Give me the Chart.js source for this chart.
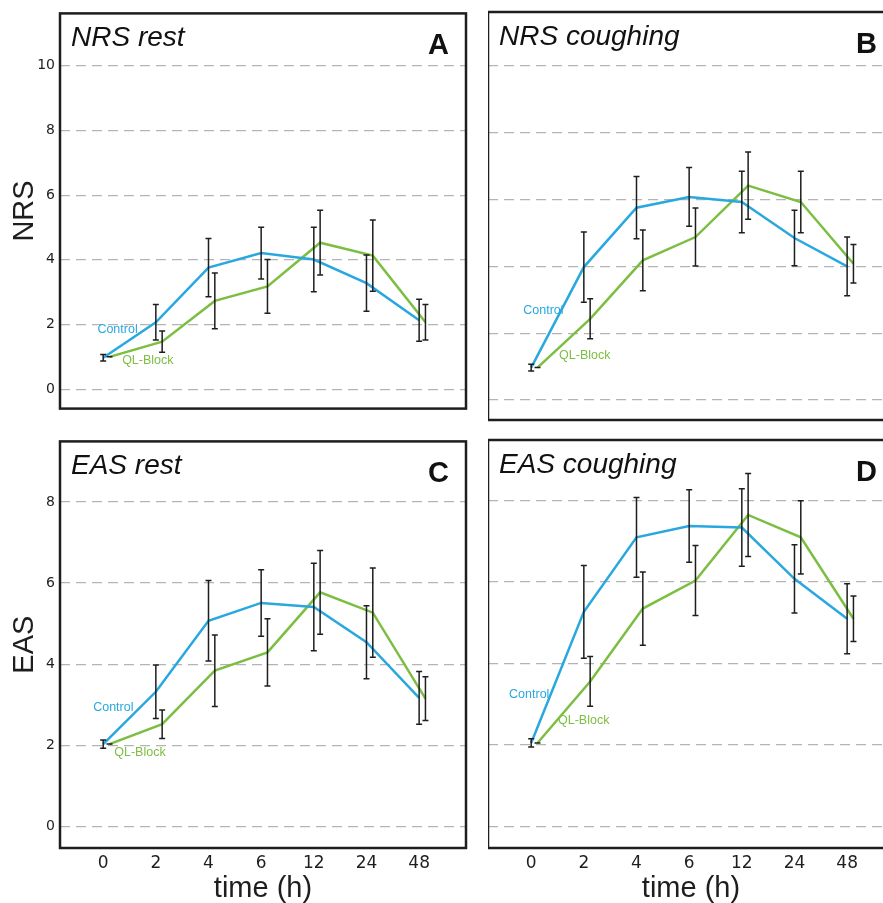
<!DOCTYPE html>
<html>
<head>
<meta charset="utf-8">
<script src="https://cdn.jsdelivr.net/npm/chart.js@4.4.0/dist/chart.umd.min.js"></script>
<style>
    html, body { margin: 0; padding: 0; background: #fff; width: 883px; height: 903px; overflow: hidden; }
    canvas { position: absolute; }
</style>
</head>
<body>
<canvas id="chartA" width="470" height="422" style="left:0;top:0"></canvas>
<canvas id="chartB" width="410" height="422" style="left:488px;top:0"></canvas>
<canvas id="chartC" width="470" height="475" style="left:0;top:428px"></canvas>
<canvas id="chartD" width="410" height="475" style="left:488px;top:428px"></canvas>
<script>
var times = ['0', '2', '4', '6', '12', '24', '48'];
var nrsTicks = [0, 2, 4, 6, 8, 10];
var easTicks = [0, 2, 4, 6, 8];

// NRS rest (A)
var nrsRestControl = [0.97, 2.07, 3.76, 4.21, 4.01, 3.28, 2.13];
var nrsRestControlSd = [0.1, 0.55, 0.9, 0.8, 1.0, 0.87, 0.65];
var nrsRestBlock = [1.0, 1.47, 2.73, 3.18, 4.53, 4.13, 2.07];
var nrsRestBlockSd = [0, 0.33, 0.86, 0.83, 1.0, 1.1, 0.55];

// NRS coughing (B)
var nrsCoughControl = [0.97, 3.98, 5.76, 6.08, 5.93, 4.85, 4.0];
var nrsCoughControlSd = [0.1, 1.05, 0.93, 0.88, 0.92, 0.83, 0.88];
var nrsCoughBlock = [0.97, 2.43, 4.18, 4.88, 6.42, 5.93, 4.08];
var nrsCoughBlockSd = [0, 0.6, 0.91, 0.87, 1.01, 0.92, 0.58];

// EAS rest (C)
var easRestControl = [2.03, 3.32, 5.07, 5.51, 5.41, 4.54, 3.17];
var easRestControlSd = [0.1, 0.66, 0.99, 0.82, 1.08, 0.9, 0.65];
var easRestBlock = [2.03, 2.52, 3.84, 4.29, 5.77, 5.27, 3.15];
var easRestBlockSd = [0, 0.35, 0.88, 0.83, 1.03, 1.1, 0.54];

// EAS coughing (D)
var easCoughControl = [2.05, 5.27, 7.1, 7.38, 7.34, 6.08, 5.1];
var easCoughControlSd = [0.1, 1.14, 0.98, 0.89, 0.95, 0.84, 0.86];
var easCoughBlock = [2.05, 3.56, 5.35, 6.04, 7.65, 7.1, 5.1];
var easCoughBlockSd = [0, 0.61, 0.9, 0.86, 1.02, 0.9, 0.56];

var blue = 'rgb(41, 168, 224)';
var green = 'rgb(124, 190, 66)';
var ink = '#1e1e1e';
var greenShift = 0.12;

function points(values, shift) {
    return values.map(function (v, i) { return { x: i + shift, y: v }; });
}

// error bars, series labels, frame, panel title and letter
var panelPlugin = {
    id: 'panel',
    afterDatasetsDraw: function (chart, args, opts) {
        var ctx = chart.ctx;
        var xs = chart.scales.x;
        var ys = chart.scales.y;
        var a = chart.chartArea;
        ctx.save();

        ctx.strokeStyle = ink;
        ctx.lineWidth = 1.5;
        chart.data.datasets.forEach(function (ds) {
            ds.data.forEach(function (p, i) {
                var px = xs.getPixelForValue(p.x);
                var top = ys.getPixelForValue(p.y + ds.sd[i]);
                var bot = ys.getPixelForValue(p.y - ds.sd[i]);
                ctx.beginPath();
                ctx.moveTo(px, top); ctx.lineTo(px, bot);
                ctx.moveTo(px - 3, top); ctx.lineTo(px + 3, top);
                ctx.moveTo(px - 3, bot); ctx.lineTo(px + 3, bot);
                ctx.stroke();
            });
        });

        ctx.font = '12.5px "Liberation Sans", Arial, sans-serif';
        ctx.textAlign = 'left';
        ctx.textBaseline = 'middle';
        opts.labels.forEach(function (l) {
            ctx.fillStyle = l.color;
            ctx.fillText(l.text, xs.getPixelForValue(l.x), ys.getPixelForValue(l.y));
        });

        ctx.lineWidth = 2.5;
        ctx.strokeStyle = ink;
        ctx.strokeRect(a.left, a.top, a.right - a.left, a.bottom - a.top);

        ctx.fillStyle = '#111';
        ctx.textBaseline = 'alphabetic';
        ctx.font = 'italic 28px "Liberation Sans", Arial, sans-serif';
        ctx.fillText(opts.title, a.left + 11, a.top + 33);
        ctx.font = 'bold 29px "Liberation Sans", Arial, sans-serif';
        ctx.textAlign = 'right';
        ctx.fillText(opts.letter, a.right - 17, a.top + 41);
        ctx.restore();
    }
};

function makePanel(canvasId, p) {
    new Chart(document.getElementById(canvasId), {
        type: 'line',
        data: {
            datasets: [
                {
                    label: 'Control',
                    data: points(p.control, 0),
                    sd: p.controlSd,
                    borderColor: blue,
                    borderWidth: 2.5,
                    pointRadius: 0,
                    tension: 0
                },
                {
                    label: 'QL-Block',
                    data: points(p.block, greenShift),
                    sd: p.blockSd,
                    borderColor: green,
                    borderWidth: 2.5,
                    pointRadius: 0,
                    tension: 0
                }
            ]
        },
        options: {
            responsive: false,
            animation: false,
            layout: {
                padding: { top: 12, right: 4, bottom: p.bottomRow ? 0 : 2, left: 0 }
            },
            scales: {
                x: {
                    type: 'linear',
                    min: -0.82,
                    max: 6.89,
                    display: p.bottomRow,
                    afterBuildTicks: function (s) {
                        s.ticks = times.map(function (t, i) { return { value: i }; });
                    },
                    afterFit: function (s) { s.height = p.bottomRow ? 55 : 0; },
                    ticks: {
                        callback: function (v) { return times[v]; },
                        autoSkip: false,
                        maxRotation: 0,
                        padding: 5,
                        color: ink,
                        font: { family: '"DejaVu Sans", sans-serif', size: 17 }
                    },
                    grid: { display: false, drawTicks: false },
                    border: { display: false },
                    title: {
                        display: true,
                        text: 'time (h)',
                        color: ink,
                        padding: 0,
                        font: { family: '"Liberation Sans", Arial, sans-serif', size: 29, lineHeight: 1.0 }
                    }
                },
                y: {
                    min: p.yMin,
                    max: p.yMax,
                    afterBuildTicks: function (s) {
                        s.ticks = p.yTicks.map(function (v) { return { value: v }; });
                    },
                    afterFit: function (s) { s.width = p.leftCol ? 60 : 0; },
                    ticks: {
                        display: p.leftCol,
                        padding: 5,
                        color: ink,
                        font: { family: '"DejaVu Sans", sans-serif', size: 14 }
                    },
                    grid: { color: '#b4b4b4', lineWidth: 1.3, drawTicks: false },
                    border: { display: false, dash: [10, 6] },
                    title: {
                        display: p.leftCol,
                        text: p.yTitle,
                        color: ink,
                        padding: { top: 8, bottom: 0 },
                        font: { family: '"Liberation Sans", Arial, sans-serif', size: 29 }
                    }
                }
            },
            plugins: {
                legend: { display: false },
                tooltip: { enabled: false },
                panel: {
                    title: p.title,
                    letter: p.letter,
                    labels: [
                        { text: 'Control', color: blue, x: p.controlLabel[0], y: p.controlLabel[1] },
                        { text: 'QL-Block', color: green, x: p.blockLabel[0], y: p.blockLabel[1] }
                    ]
                }
            }
        },
        plugins: [panelPlugin]
    });
}

makePanel('chartA', {
    title: 'NRS rest', letter: 'A', yTitle: 'NRS',
    control: nrsRestControl, controlSd: nrsRestControlSd,
    block: nrsRestBlock, blockSd: nrsRestBlockSd,
    yMin: -0.6, yMax: 11.62, yTicks: nrsTicks,
    leftCol: true, bottomRow: false,
    controlLabel: [-0.11, 1.83], blockLabel: [0.36, 0.9]
});

makePanel('chartB', {
    title: 'NRS coughing', letter: 'B', yTitle: 'NRS',
    control: nrsCoughControl, controlSd: nrsCoughControlSd,
    block: nrsCoughBlock, blockSd: nrsCoughBlockSd,
    yMin: -0.6, yMax: 11.62, yTicks: nrsTicks,
    leftCol: false, bottomRow: false,
    controlLabel: [-0.15, 2.68], blockLabel: [0.53, 1.32]
});

makePanel('chartC', {
    title: 'EAS rest', letter: 'C', yTitle: 'EAS',
    control: easRestControl, controlSd: easRestControlSd,
    block: easRestBlock, blockSd: easRestBlockSd,
    yMin: -0.53, yMax: 9.49, yTicks: easTicks,
    leftCol: true, bottomRow: true,
    controlLabel: [-0.19, 2.93], blockLabel: [0.21, 1.83]
});

makePanel('chartD', {
    title: 'EAS coughing', letter: 'D', yTitle: 'EAS',
    control: easCoughControl, controlSd: easCoughControlSd,
    block: easCoughBlock, blockSd: easCoughBlockSd,
    yMin: -0.53, yMax: 9.49, yTicks: easTicks,
    leftCol: false, bottomRow: true,
    controlLabel: [-0.42, 3.25], blockLabel: [0.51, 2.6]
});
</script>
</body>
</html>
